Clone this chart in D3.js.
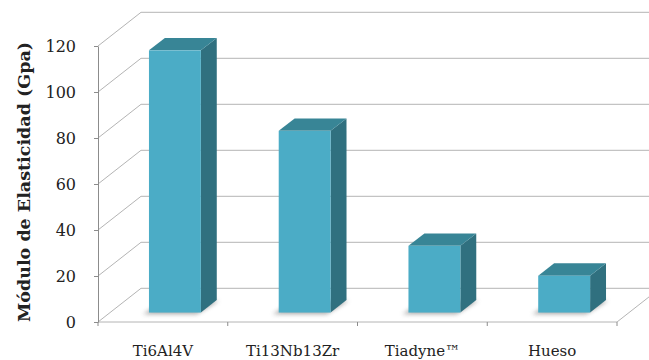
<!DOCTYPE html>
<html>
<head>
<meta charset="utf-8">
<script src="https://cdn.jsdelivr.net/npm/d3@7/dist/d3.min.js"></script>
<style>
  html, body { margin: 0; padding: 0; background: #fff; }
  svg { display: block; }
  text { font-family: "DejaVu Serif", "Liberation Serif", serif; fill: #222; }
</style>
</head>
<body>
<svg id="chart" width="649" height="360"></svg>
<script>
// Elastic modulus of implant materials vs. bone
const categories = ["Ti6Al4V", "Ti13Nb13Zr", "Tiadyne™", "Hueso"];
const modulus = [114, 79, 29, 16];
const yTicks = [0, 20, 40, 60, 80, 100, 120];
const yTitle = "Módulo de Elasticidad (Gpa)";

const W = 649, H = 360;
const left = 98, right = 617, floorY = 322, topY = 46;
// oblique depth vector of the 3D box (full floor depth)
const depth = { dx: 43, dy: -33.7 };
const barFront = 0.28, barDepth = 0.37;

const svg = d3.select("#chart");

const x = d3.scaleBand().domain(categories).range([left, right])
  .paddingInner(0.6).paddingOuter(0.3);
const y = d3.scaleLinear().domain([0, 120]).range([floorY, topY]);

// project a point given front-plane x, value, and depth fraction
const P = (px, v, d) => [px + d * depth.dx, y(v) + d * depth.dy];

const defs = svg.append("defs");
defs.append("filter").attr("id", "soft").attr("x", "-20%").attr("y", "-50%")
  .attr("width", "140%").attr("height", "200%")
  .append("feGaussianBlur").attr("stdDeviation", 2.2);
defs.append("clipPath").attr("id", "clip").append("rect")
  .attr("x", 0).attr("y", 0).attr("width", W).attr("height", H);

const grid = svg.append("g").attr("clip-path", "url(#clip)");

// side-wall + back-wall gridlines
yTicks.forEach(v => {
  const a = P(left, v, 0), b = P(left, v, 1), c = P(right + 60, v, 1);
  grid.append("polyline")
    .attr("points", [a, b, c].map(p => p.join(",")).join(" "))
    .attr("fill", "none").attr("stroke", "#b4b4b4").attr("stroke-width", 1);
});

// floor front edge and right edge
const f0 = P(left, 0, 0), f1 = P(right, 0, 0), f2 = P(right, 0, 1);
grid.append("polyline")
  .attr("points", [f0, f1, f2].map(p => p.join(",")).join(" "))
  .attr("fill", "none").attr("stroke", "#b4b4b4").attr("stroke-width", 1);

// category boundary ticks on the floor front edge
const step = x.step();
d3.range(categories.length + 1).forEach(i => {
  const tx = left + i * step;
  svg.append("line").attr("x1", tx).attr("x2", tx)
    .attr("y1", floorY).attr("y2", floorY + 4)
    .attr("stroke", "#8c8c8c").attr("stroke-width", 1);
});

// bars
const bars = svg.append("g");
categories.forEach((c, i) => {
  const v = modulus[i];
  const x0 = x(c), x1 = x(c) + x.bandwidth();
  const d0 = barFront, d1 = barFront + barDepth;
  const pts = arr => arr.map(p => p.join(",")).join(" ");

  // soft shadow on the floor under the footprint
  bars.append("polygon")
    .attr("points", pts([P(x0 - 4, 0, d0 - 0.05), P(x1 - 2, 0, d0 - 0.05),
                         P(x1 + 3, 0, d1 - 0.02), P(x0, 0, d1 - 0.02)]))
    .attr("fill", "#6a6a6a").attr("opacity", 0.55).attr("filter", "url(#soft)");

  // side face
  bars.append("polygon")
    .attr("points", pts([P(x1, 0, d0), P(x1, 0, d1), P(x1, v, d1), P(x1, v, d0)]))
    .attr("fill", "#30707f");
  // top face
  bars.append("polygon")
    .attr("points", pts([P(x0, v, d0), P(x1, v, d0), P(x1, v, d1), P(x0, v, d1)]))
    .attr("fill", "#388596");
  // front face
  const a = P(x0, v, d0), b = P(x1, 0, d0);
  bars.append("rect")
    .attr("x", a[0]).attr("y", a[1])
    .attr("width", b[0] - a[0]).attr("height", b[1] - a[1])
    .attr("fill", "#4bacc6");
});

// value axis
const yAxis = svg.append("g").attr("transform", `translate(${left},0)`)
  .call(d3.axisLeft(y).tickValues(yTicks).tickSize(4).tickPadding(18).tickSizeOuter(0));
yAxis.select(".domain").attr("stroke", "#8c8c8c");
yAxis.selectAll(".tick line").attr("stroke", "#8c8c8c");
yAxis.selectAll(".tick text")
  .style("font-family", "'DejaVu Serif', serif").style("font-size", "16px").attr("fill", "#222");

// category labels
const xAxis = svg.append("g").attr("transform", `translate(0,${floorY})`)
  .call(d3.axisBottom(x).tickSize(0));
xAxis.select(".domain").remove();
xAxis.selectAll(".tick text")
  .attr("y", 34).attr("dy", 0)
  .style("font-family", "'DejaVu Serif', serif").style("font-size", "15px").attr("fill", "#222");

// axis title
svg.append("text")
  .attr("transform", "translate(30,182) rotate(-90)")
  .attr("text-anchor", "middle")
  .style("font-size", "17.5px").style("font-weight", "bold")
  .text(yTitle);
</script>
</body>
</html>
